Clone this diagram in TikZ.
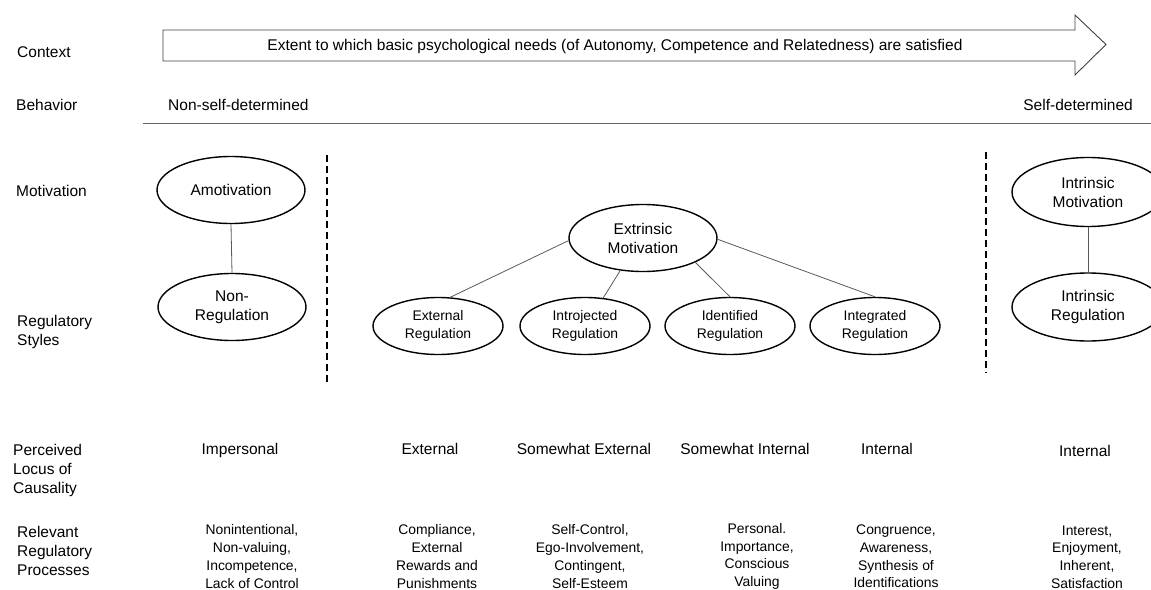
\documentclass[tikz,border=0pt]{standalone}
\usepackage{fontspec}
\setmainfont{Liberation Sans}
\usetikzlibrary{shapes.geometric}
\newcommand\bigf{\fontsize{15.5}{19}\selectfont}
\newcommand\smf{\fontsize{13.9}{17.7}\selectfont}
\begin{document}
\begin{tikzpicture}[x=1pt,y=-1pt,
  lbl/.style={anchor=west,inner sep=0pt,align=left,font=\bigf},
  txt/.style={inner sep=0pt,align=center,font=\bigf},
  proc/.style={inner sep=0pt,align=center,font=\smf},
  bigell/.style={ellipse,draw,line width=1.4pt,inner sep=0pt,minimum width=148pt,minimum height=67pt,align=center,font=\bigf},
  smell/.style={ellipse,draw,line width=1.4pt,inner sep=0pt,minimum width=130pt,minimum height=57pt,align=center,font=\smf},
  conn/.style={draw=black!65,line width=0.8pt},
  sepline/.style={draw=black,line width=1.3pt,dash pattern=on 7pt off 4pt}]
\useasboundingbox (0,0) rectangle (1151,589);
\clip (0,0) rectangle (1151,589);

% context arrow
\draw[line width=0.9pt,draw=black!75] (163,30) -- (1075,30) -- (1075,15) -- (1106,44.5) -- (1075,75) -- (1075,61) -- (163,61) -- cycle;
\node[txt] (ctxtext) at (615,46) {Extent to which basic psychological needs (of Autonomy, Competence and Relatedness) are satisfied};

% row labels
\node[lbl] (lctx) at (17,52) {Context};
\node[lbl] (lbeh) at (16,105) {Behavior};
\node[lbl] (lmot) at (16,191) {Motivation};
\node[lbl] (lreg) at (17,332) {Regulatory\\Styles};
\node[lbl] (lloc) at (13,470) {Perceived\\Locus of\\Causality};
\node[lbl] (lproc) at (17,551) {Relevant\\Regulatory\\Processes};

% behavior
\node[lbl] (nsd) at (168,105) {Non-self-determined};
\node[txt,anchor=east] (sd) at (1133,105) {Self-determined};
\coordinate (hl1) at (143,123);
\coordinate (hl2) at (1151,123);
\draw[draw=black!60,line width=0.9pt] (hl1) -- (hl2);

% separators
\coordinate (s1a) at (327,155);
\coordinate (s1b) at (327,382);
\coordinate (s2a) at (986,152);
\coordinate (s2b) at (986,373);
\draw[sepline] (s1a) -- (s1b);
\draw[sepline] (s2a) -- (s2b);

% ellipses
\node[bigell] (amot) at (231,190) {Amotivation};
\node[bigell] (nonreg) at (232,307) {Non-\\Regulation};
\node[bigell] (extr) at (643,238) {Extrinsic\\Motivation};
\node[smell] (extreg) at (438,326) {External\\Regulation};
\node[smell] (intro) at (585,326) {Introjected\\Regulation};
\node[smell] (ident) at (730,326) {Identified\\Regulation};
\node[smell] (integ) at (875,326) {Integrated\\Regulation};
\node[bigell,minimum width=152pt,minimum height=69pt] (intmot) at (1088,192) {Intrinsic\\Motivation};
\node[bigell,minimum width=152pt,minimum height=68pt] (intreg) at (1088,307) {Intrinsic\\Regulation};

% connectors
\draw[conn] (amot.south) -- (nonreg.north);
\draw[conn] (extr.182) -- (extreg.67);
\draw[conn] (extr.235) -- (intro.57);
\draw[conn] (extr.335) -- (ident.north);
\draw[conn] (extr.359) -- (integ.north);
\draw[conn] (intmot.south) -- (intreg.north);

% locus of causality
\node[txt] (loc1) at (240,450) {Impersonal};
\node[txt] (loc2) at (430,449) {External};
\node[txt] (loc3) at (584,449) {Somewhat External};
\node[txt] (loc4) at (745,449) {Somewhat Internal};
\node[txt] (loc5) at (887,449) {Internal};
\node[txt] (loc6) at (1085,451) {Internal};

% processes
\node[proc] (p1) at (252,556.5) {Nonintentional,\\Non-valuing,\\Incompetence,\\Lack of Control};
\node[proc] (p2) at (437,556.5) {Compliance,\\External\\Rewards and\\Punishments};
\node[proc] (p3) at (590,556.5) {Self-Control,\\Ego-Involvement,\\Contingent,\\Self-Esteem};
\node[proc] (p4) at (757,556.5) {Personal.\\Importance,\\Conscious\\Valuing};
\node[proc] (p5) at (896,556.5) {Congruence,\\Awareness,\\Synthesis of\\Identifications};
\node[proc] (p6) at (1087,557) {Interest,\\Enjoyment,\\Inherent,\\Satisfaction};
\end{tikzpicture}
\end{document}
